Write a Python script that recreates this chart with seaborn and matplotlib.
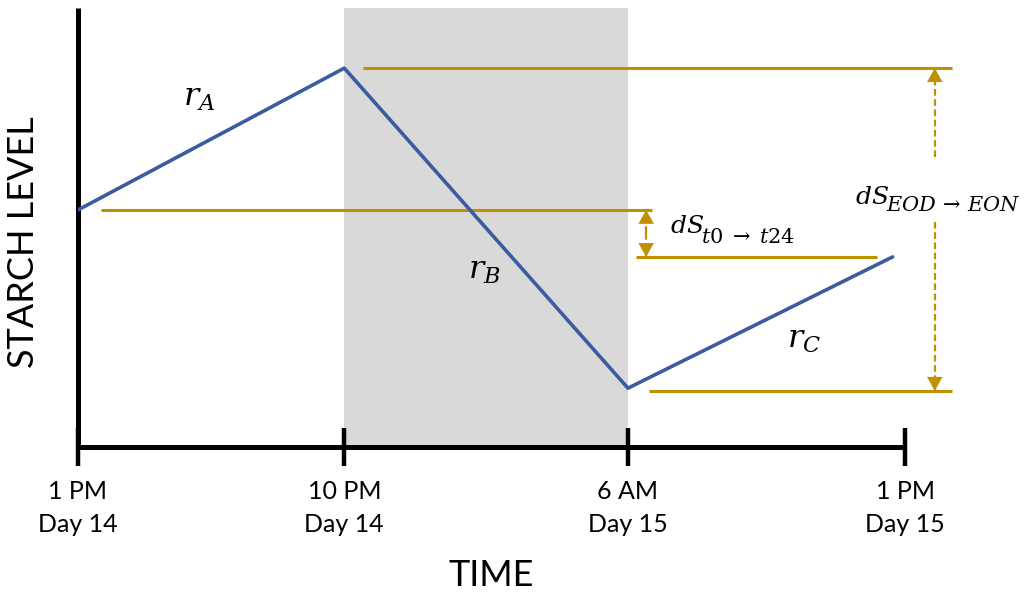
"""Starch level over a 24 h light/dark cycle, schematic chart."""

import matplotlib
import matplotlib.pyplot as plt
import pandas as pd
import seaborn as sns

matplotlib.use("Agg")

# tick positions along the (schematic) time axis and their labels
tick_pos = [0.0, 3.22, 6.65, 10.0]
time_labels = ["1 PM\nDay 14", "10 PM\nDay 14", "6 AM\nDay 15", "1 PM\nDay 15"]

# starch curve: start, end of day, end of night, end
starch_x = [0.0, 3.22, 6.65, 9.85]
starch_y = [5.40, 8.63, 1.34, 4.33]

# golden reference levels (EOD, t0, t24, EON) and their horizontal extent
ref_y = [8.63, 5.40, 4.33, 1.28]
ref_x0 = [3.45, 0.28, 6.75, 6.90]
ref_x1 = [10.57, 6.94, 9.66, 10.57]

BLUE = "#3b5ca0"
GOLD = "#bf9000"
NIGHT = "#d9d9d9"

sns.set_theme(style="white")
plt.rcParams["font.family"] = ["Lato", "DejaVu Sans"]
plt.rcParams["mathtext.fontset"] = "dejavuserif"
plt.rcParams["text.color"] = "black"

fig = plt.figure(figsize=(10.31, 5.94), dpi=100)
ax = fig.add_axes([78 / 1031, 147 / 594, 827 / 1031, 439 / 594])

# night period
ax.axvspan(tick_pos[1], tick_pos[2], color=NIGHT, lw=0, zorder=0)

df = pd.DataFrame({"time": starch_x, "starch": starch_y})
sns.lineplot(data=df, x="time", y="starch", ax=ax, color=BLUE, lw=2.6,
             sort=False, zorder=3)

for y, x0, x1 in zip(ref_y, ref_x0, ref_x1):
    ax.plot([x0, x1], [y, y], color=GOLD, lw=2.2, clip_on=False, zorder=2,
            solid_capstyle="butt")


def dashed_arrow(x, y_from, y_to):
    # dashed shaft plus a solid filled head at y_to
    ax.plot([x, x], [y_from, y_to], color=GOLD, lw=1.6, dashes=(3, 1.6),
            clip_on=False, zorder=2)
    sign = -1 if y_to > y_from else 1
    ax.annotate("", xy=(x, y_to), xytext=(0, sign * 15),
                textcoords="offset pixels", annotation_clip=False,
                arrowprops=dict(arrowstyle="-|>,head_length=0.5,head_width=0.28",
                                mutation_scale=20, color=GOLD, lw=0,
                                shrinkA=0, shrinkB=0))


def delta_label(x, y, sub, drop):
    # "dS" with a larger-than-mathtext subscript placed right after it
    main = ax.text(x, y, r"$dS$", fontsize=18, ha="left", va="baseline",
                   clip_on=False)
    ax.annotate(sub, xy=(1, y), xycoords=(main, "data"),
                xytext=(-3, -drop), textcoords="offset pixels",
                fontsize=15, ha="left", va="baseline", annotation_clip=False)


# dS t0 -> t24 (double arrow)
mid = (ref_y[1] + ref_y[2]) / 2
dashed_arrow(6.87, mid, ref_y[1])
dashed_arrow(6.87, mid, ref_y[2])
# dS EOD -> EON, split around its label
dashed_arrow(10.36, 6.61, ref_y[0])
dashed_arrow(10.36, 5.13, ref_y[3])

ax.text(1.46, 7.95, r"$r_A$", fontsize=23, ha="center", va="center")
ax.text(4.91, 4.00, r"$r_B$", fontsize=23, ha="center", va="center")
ax.text(8.78, 2.44, r"$r_C$", fontsize=23, ha="center", va="center")
delta_label(7.16, 4.87, r"$t0\;\rightarrow\;t24$", 10)
delta_label(9.40, 5.54, r"$EOD\,\rightarrow\,EON$", 7)

ax.set_xlim(0, 10)
ax.set_ylim(0, 10)
ax.set_xticks(tick_pos)
ax.set_xticklabels(time_labels)
ax.set_yticks([])
ax.tick_params(axis="x", bottom=True, direction="inout", length=27, width=3.2,
               pad=10, labelsize=18, colors="black")
for lab in ax.get_xticklabels():
    lab.set_linespacing(1.55)

for side in ("top", "right"):
    ax.spines[side].set_visible(False)
for side in ("left", "bottom"):
    ax.spines[side].set_linewidth(3.6)
    ax.spines[side].set_color("black")
    ax.spines[side].set_capstyle("butt")

ax.set_xlabel("TIME", fontsize=26, color="black")
ax.set_ylabel("STARCH LEVEL", fontsize=26, color="black")
ax.xaxis.set_label_coords(0.5, -0.255)
ax.yaxis.set_label_coords(-0.046, 0.467)

fig.savefig("out.png", dpi=100, facecolor="white")
plt.close(fig)
